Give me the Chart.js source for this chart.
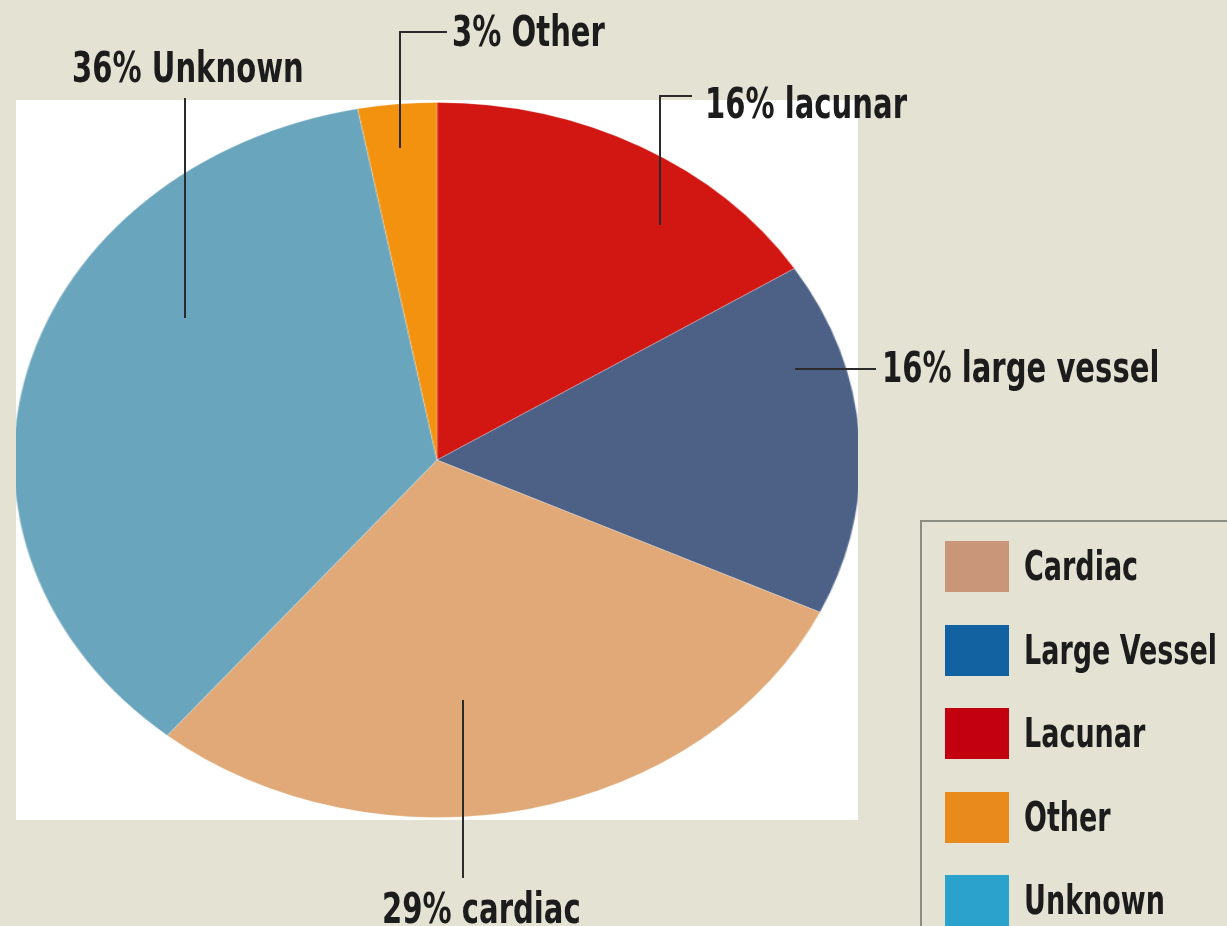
<!DOCTYPE html>
<html>
<head>
<meta charset="utf-8">
<title>Stroke subtypes</title>
<script src="https://cdn.jsdelivr.net/npm/chart.js@4.4.1/dist/chart.umd.min.js"></script>
<style>
    html, body { margin: 0; padding: 0; }
    body {
        width: 1227px;
        height: 926px;
        position: relative;
        overflow: hidden;
        background: #e4e2d3;
        font-family: "Liberation Sans Narrow", "DejaVu Sans Condensed", "Arial Narrow", sans-serif;
        font-weight: bold;
        color: #1c1c1c;
    }
    #plate {
        position: absolute;
        left: 16px;
        top: 100px;
        width: 842px;
        height: 720px;
        background: #ffffff;
        overflow: hidden;
    }
    #pieWrap {
        position: absolute;
        left: 63px;
        top: 2px;
        width: 716px;
        height: 716px;
        transform: scaleX(1.184);
        transform-origin: 50% 50%;
    }
    #leaders { position: absolute; left: 0; top: 0; }
    .callout {
        position: absolute;
        font-size: 42px;
        line-height: 1;
        white-space: nowrap;
        transform: scaleX(0.77);
        transform-origin: 0 50%;
    }
    #legend {
        position: absolute;
        left: 920px;
        top: 520px;
        width: 320px;
        height: 420px;
        border-top: 2px solid #8c8d81;
        border-left: 2px solid #8c8d81;
    }
    .legend-item {
        position: absolute;
        left: 23px;
        height: 51px;
    }
    .legend-item .swatch {
        position: absolute;
        left: 0;
        top: 0;
        width: 64px;
        height: 51px;
    }
    .legend-item .name {
        position: absolute;
        left: 79px;
        top: 5px;
        font-size: 40px;
        line-height: 1;
        white-space: nowrap;
        transform: scaleX(0.75);
        transform-origin: 0 50%;
    }
</style>
</head>
<body>
<div id="plate">
    <div id="pieWrap"><canvas id="pieChart" width="716" height="716"></canvas></div>
</div>
<svg id="leaders" width="1227" height="926"></svg>
<div id="callouts"></div>
<div id="legend"></div>

<script>
// slices in clockwise order starting at 12 o'clock
const sliceNames = ["Lacunar", "Large Vessel", "Cardiac", "Unknown", "Other"];
const slicePercents = [16, 16, 29, 36, 3];
const sliceColors = ["#d21611", "#4d6187", "#e0a977", "#69a5bd", "#f2920f"];

// callout text uses lower case for some subtypes
const calloutNames = ["lacunar", "large vessel", "cardiac", "Unknown", "Other"];

// legend is listed alphabetically, with its own (brighter) swatches
const legendOrder = ["Cardiac", "Large Vessel", "Lacunar", "Other", "Unknown"];
const legendColors = ["#c9967a", "#1262a2", "#c2000f", "#e98a1d", "#2aa2cc"];

// callout placement: text box top-left and leader polyline per slice
const calloutLayout = [
    { x: 705, y: 83, line: [[692, 96], [660, 96], [660, 225]] },
    { x: 882, y: 347, line: [[876, 369], [795, 369]] },
    { x: 382, y: 888, line: [[463, 878], [463, 700]] },
    { x: 72, y: 47, line: [[185, 98], [185, 318]] },
    { x: 452, y: 11, line: [[447, 32], [400, 32], [400, 148]] }
];

new Chart(document.getElementById("pieChart"), {
    type: "pie",
    data: {
        labels: sliceNames,
        datasets: [{
            data: slicePercents,
            backgroundColor: sliceColors,
            borderColor: "rgba(255,255,255,0.25)",
            borderWidth: 1
        }]
    },
    options: {
        responsive: false,
        animation: false,
        rotation: 0,
        layout: { padding: 0 },
        plugins: {
            legend: { display: false },
            tooltip: { enabled: false }
        }
    }
});

const svgNS = "http://www.w3.org/2000/svg";
const leaders = document.getElementById("leaders");
const callouts = document.getElementById("callouts");

slicePercents.forEach((value, i) => {
    const spec = calloutLayout[i];
    const line = document.createElementNS(svgNS, "polyline");
    line.setAttribute("points", spec.line.map(p => p.join(",")).join(" "));
    line.setAttribute("fill", "none");
    line.setAttribute("stroke", "#2b2b2b");
    line.setAttribute("stroke-width", "2");
    leaders.appendChild(line);

    const label = document.createElement("div");
    label.className = "callout";
    label.style.left = spec.x + "px";
    label.style.top = spec.y + "px";
    label.textContent = `${value}% ${calloutNames[i]}`;
    callouts.appendChild(label);
});

const legend = document.getElementById("legend");
legendOrder.forEach((name, i) => {
    const item = document.createElement("div");
    item.className = "legend-item";
    item.style.top = (19 + i * 83.5) + "px";
    item.innerHTML = `<div class="swatch" style="background:${legendColors[i]}"></div><div class="name">${name}</div>`;
    legend.appendChild(item);
});
</script>
</body>
</html>
